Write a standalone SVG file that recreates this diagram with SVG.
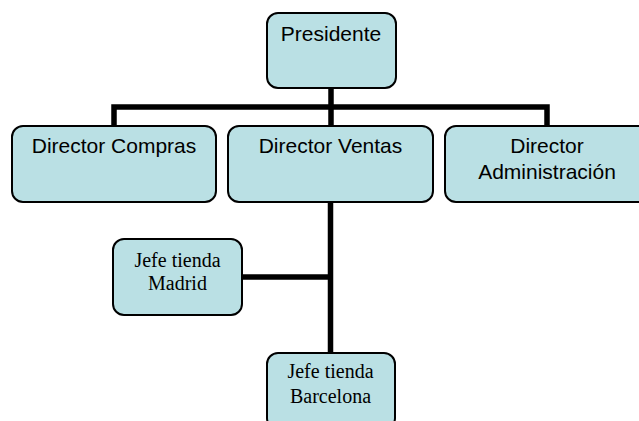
<svg xmlns="http://www.w3.org/2000/svg" width="639" height="421" viewBox="0 0 639 421">
<style>
.box{fill:#BAE0E4;stroke:#000;stroke-width:2}
.s{font-family:"Liberation Sans",Arial,sans-serif;font-size:21px;fill:#000;text-anchor:middle}
.t{font-family:"Liberation Serif","Times New Roman",serif;font-size:20px;fill:#000;text-anchor:middle}
.c{fill:none;stroke:#000;stroke-width:5.5;stroke-linejoin:miter;stroke-linecap:butt}
</style>
<rect width="639" height="421" fill="#fff"/>
<g id="connectors">
<path class="c" d="M331,88 V126"/>
<path class="c" d="M114,126 V107 H547 V126"/>
<path class="c" d="M330.5,202 V353"/>
<path class="c" d="M242,277 H330.5"/>
</g>
<g id="presidente">
<rect class="box" x="267" y="13" width="129" height="75" rx="11"/>
<text class="s" x="331" y="41">Presidente</text>
</g>
<g id="director-compras">
<rect class="box" x="12" y="126" width="204" height="76" rx="11"/>
<text class="s" x="114" y="153">Director Compras</text>
</g>
<g id="director-ventas">
<rect class="box" x="228" y="126" width="205" height="76" rx="11"/>
<text class="s" x="330.5" y="153">Director Ventas</text>
</g>
<g id="director-administracion">
<rect class="box" x="445" y="126" width="205" height="76" rx="11"/>
<text class="s" x="547" y="153">Director</text>
<text class="s" x="547" y="179">Administración</text>
</g>
<g id="jefe-madrid">
<rect class="box" x="113" y="239" width="129" height="76" rx="11"/>
<text class="t" x="177.5" y="267">Jefe tienda</text>
<text class="t" x="177.5" y="290">Madrid</text>
</g>
<g id="jefe-barcelona">
<rect class="box" x="267" y="353" width="128" height="76" rx="11"/>
<text class="t" x="330.5" y="378">Jefe tienda</text>
<text class="t" x="330.5" y="403">Barcelona</text>
</g>
</svg>
